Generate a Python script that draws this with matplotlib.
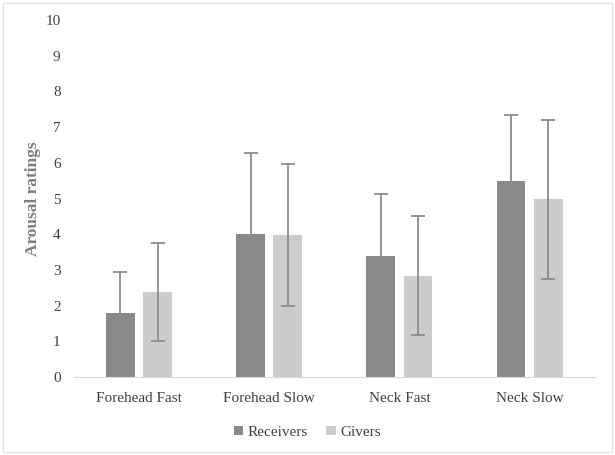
import numpy as np
import matplotlib.pyplot as plt
from matplotlib.patches import Rectangle

# values
conditions = ["Forehead Fast", "Forehead Slow", "Neck Fast", "Neck Slow"]
receivers_mean = [1.81, 4.01, 3.38, 5.49]
receivers_sd = [1.13, 2.26, 1.75, 1.85]
givers_mean = [2.39, 3.99, 2.84, 4.98]
givers_sd = [1.37, 1.99, 1.66, 2.22]

plt.rcParams['font.family'] = ['Liberation Serif', 'DejaVu Serif']

fig = plt.figure(figsize=(6.15, 4.55), dpi=100)
ax = fig.add_axes([0.12, 0.171, 0.847, 0.785])

# faint frame round the whole chart
fig.patches.append(Rectangle((0.005, 0.006), 0.99, 0.988, transform=fig.transFigure,
                             fill=False, edgecolor='#e3e3e3', linewidth=1))

x = np.arange(len(conditions))
w = 0.22
off = 0.143
err_kw = dict(ecolor='#8c8c8c', elinewidth=1.3, capsize=5, capthick=1.3)

ax.bar(x - off, receivers_mean, w, yerr=receivers_sd, color='#898989',
       label='Receivers', error_kw=err_kw)
ax.bar(x + off, givers_mean, w, yerr=givers_sd, color='#cccccc',
       label='Givers', error_kw=err_kw)

ax.set_xlim(-0.5, 3.5)
ax.set_ylim(0, 10)
ax.set_yticks(range(0, 11))
ax.set_xticks(x)
ax.set_xticklabels(conditions)
ax.tick_params(length=0, labelsize=11, colors='#404040')
ax.tick_params(axis='x', pad=11)
ax.tick_params(axis='y', pad=9.5)

for s in ['top', 'right', 'left']:
    ax.spines[s].set_visible(False)
ax.spines['bottom'].set_color('#d9d9d9')

ax.set_ylabel("Arousal ratings", fontsize=12.5, fontweight='bold',
              color='#7f7f7f', labelpad=3)

fig.legend(loc='center', bbox_to_anchor=(0.5, 0.05), ncol=2, frameon=False,
           fontsize=11, handlelength=0.6, handleheight=0.6,
           handletextpad=0.3, columnspacing=1.2, labelcolor='#404040')

fig.savefig("out.png", dpi=100)
